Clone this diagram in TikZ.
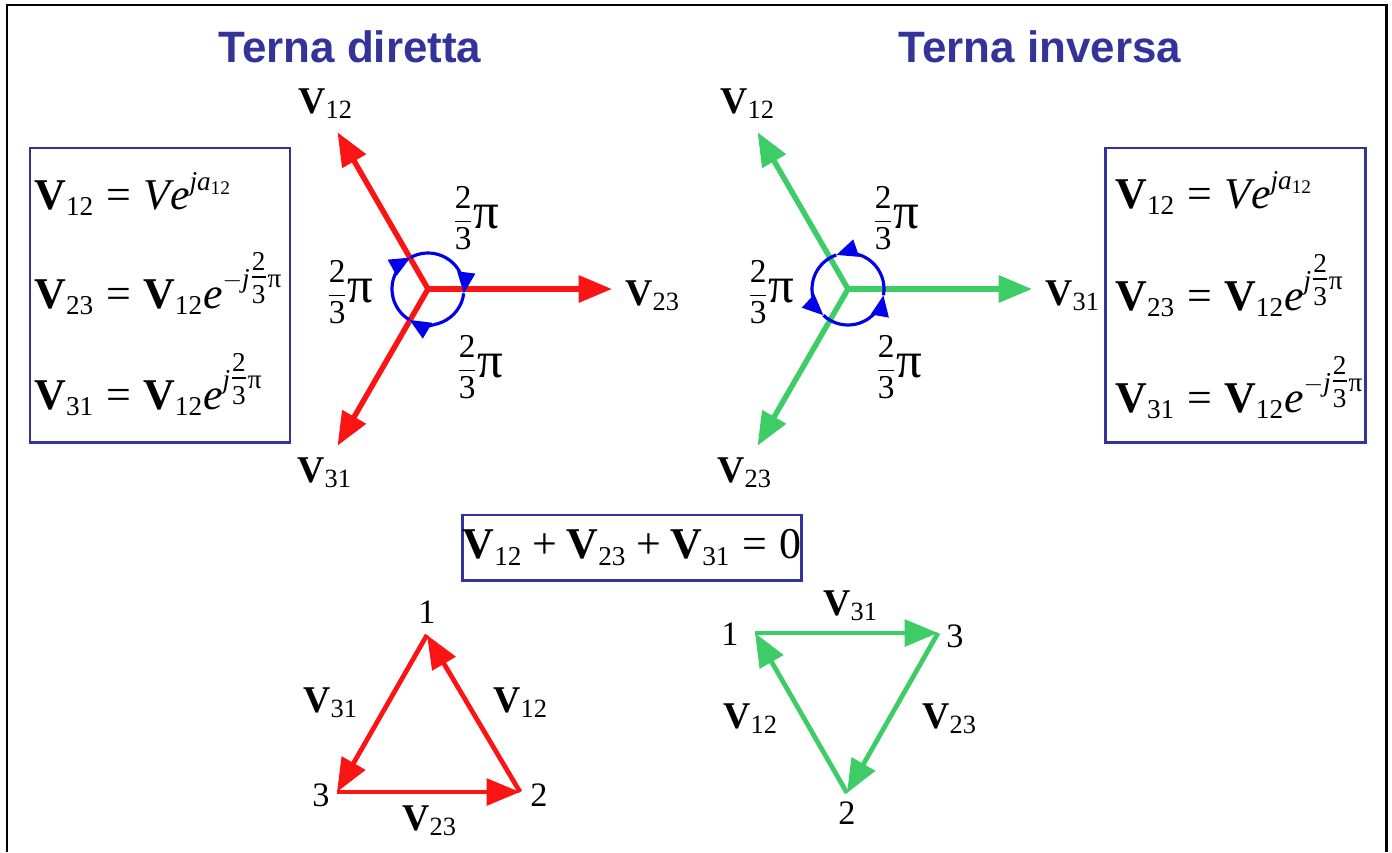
\documentclass[tikz,border=0pt]{standalone}
\usepackage{amsmath}
\usepackage{fontspec}
\setmainfont{Liberation Serif}
\newfontfamily\titlefont{Liberation Sans}
\usetikzlibrary{arrows.meta}

\definecolor{boxblue}{RGB}{51,51,153}
\definecolor{phred}{RGB}{250,20,20}
\definecolor{phgreen}{RGB}{61,204,102}
\definecolor{arcblue}{RGB}{0,0,235}

\DeclareMathSizes{25}{25}{15.5}{11}
\DeclareMathSizes{21.5}{21.5}{15}{11}

\newcommand{\vb}[1]{\mathbf{V}_{\text{#1}}}
\newcommand{\pis}{\text{π}}
\newcommand{\eqs}{\mathrel{\text{=}}}
\newcommand{\pls}{\mathbin{\text{+}}}
\newcommand{\efr}{\genfrac{}{}{}{1}{\text{2}}{\text{3}}}
\newcommand{\angfr}{\genfrac{}{}{}{0}{\text{2}}{\text{3}}\text{\fontsize{29}{29}\selectfont π}}

\begin{document}
\begin{tikzpicture}[x=0.02cm, y=-0.02cm,
  phasor/.style={line width=3.1pt, -{Triangle[length=19pt,width=15pt]}},
  side/.style={line width=2.7pt, -{Triangle[length=19pt,width=15pt]}},
  turn/.style={draw=arcblue, line width=1.8pt, -{Triangle[length=12pt,width=10pt]}},
  eqframe/.style={draw=boxblue, line width=1.7pt},
  title/.style={anchor=base, text=boxblue, font=\titlefont\bfseries\fontsize{25}{30}\selectfont},
  vlab/.style={anchor=base west, inner sep=0pt, font=\fontsize{21.5}{26}\selectfont},
  alab/.style={inner sep=0pt, font=\fontsize{19}{23}\selectfont},
  num/.style={inner sep=0pt, font=\fontsize{19.5}{23}\selectfont},
  eqline/.style={anchor=base west, inner sep=0pt, font=\fontsize{25}{30}\selectfont}]
\useasboundingbox (0,0) rectangle (1392,852);
% slide frame, open at the bottom
\draw[line width=1.7pt] (7,852) -- (7,5) -- (1386,5) -- (1386,852);

\node[title] (tdir) at (350,62) {Terna diretta};
\node[title] (tinv) at (1040,62) {Terna inversa};

% --- terna diretta: star
\coordinate (cL) at (428,289);
\path (cL) ++(120:3.62cm) coordinate (l12);
\path (cL) ++(0:3.68cm) coordinate (l23);
\path (cL) ++(240:3.62cm) coordinate (l31);
\draw[phasor, phred] (cL) -- (l12);
\draw[phasor, phred] (cL) -- (l23);
\draw[phasor, phred] (cL) -- (l31);
\draw[turn] (cL) ++(119:0.72cm) arc[start angle=119, end angle=-7, radius=0.72cm];
\draw[turn] (cL) ++(-7:0.72cm) arc[start angle=-7, end angle=-121, radius=0.72cm];
\draw[turn] (cL) ++(-121:0.72cm) arc[start angle=-121, end angle=-241, radius=0.72cm];
\node[vlab] (nl12) at (298,113) {$\vb{12}$};
\node[vlab] (nl23) at (625,305) {$\vb{23}$};
\node[vlab] (nl31) at (297,482) {$\vb{31}$};
\node[alab] (al1) at (476,218) {$\angfr$};
\node[alab] (al2) at (350,292) {$\angfr$};
\node[alab] (al3) at (480,367) {$\angfr$};

% --- terna inversa: star
\coordinate (cR) at (848,289);
\path (cR) ++(120:3.62cm) coordinate (r12);
\path (cR) ++(0:3.68cm) coordinate (r31);
\path (cR) ++(240:3.62cm) coordinate (r23);
\draw[phasor, phgreen] (cR) -- (r12);
\draw[phasor, phgreen] (cR) -- (r31);
\draw[phasor, phgreen] (cR) -- (r23);
\draw[turn] (cR) ++(-10:0.72cm) arc[start angle=-10, end angle=109, radius=0.72cm];
\draw[turn] (cR) ++(109:0.72cm) arc[start angle=109, end angle=227, radius=0.72cm];
\draw[turn] (cR) ++(227:0.72cm) arc[start angle=227, end angle=350, radius=0.72cm];
\node[vlab] (nr12) at (720,113) {$\vb{12}$};
\node[vlab] (nr31) at (1045,305) {$\vb{31}$};
\node[vlab] (nr23) at (717,482) {$\vb{23}$};
\node[alab] (ar1) at (896,218) {$\angfr$};
\node[alab] (ar2) at (771,292) {$\angfr$};
\node[alab] (ar3) at (899,367) {$\angfr$};

% --- equation boxes
\draw[eqframe] (30,148) rectangle (290,442);
\node[eqline] (eqL1) at (34,209) {$\vb{12}\eqs\mathit{Ve}^{\mathit{j}\mathit{a}_{\text{12}}}$};
\node[eqline] (eqL2) at (34,308) {$\vb{23}\eqs\vb{12}\mathit{e}^{-\mathit{j}\efr\pis}$};
\node[eqline] (eqL3) at (34,409) {$\vb{31}\eqs\vb{12}\mathit{e}^{\mathit{j}\efr\pis}$};

\draw[eqframe] (1105,148) rectangle (1365,442);
\node[eqline] (eqR1) at (1115,208) {$\vb{12}\eqs\mathit{Ve}^{\mathit{j}\mathit{a}_{\text{12}}}$};
\node[eqline] (eqR2) at (1115,310) {$\vb{23}\eqs\vb{12}\mathit{e}^{\mathit{j}\efr\pis}$};
\node[eqline] (eqR3) at (1115,412) {$\vb{31}\eqs\vb{12}\mathit{e}^{-\mathit{j}\efr\pis}$};

\node[eqframe, minimum width=193pt, minimum height=37pt, inner sep=0pt,
  font=\fontsize{25}{30}\selectfont] (sum) at (632,547.5)
  {$\vb{12}\pls\vb{23}\pls\vb{31}\eqs\text{0}$};

% --- triangles
\coordinate (a1) at (427,635);
\coordinate (a2) at (520,792);
\coordinate (a3) at (337,792);
\draw[side, phred] (a2) -- (a1);
\draw[side, phred] (a3) -- (a2);
\draw[side, phred] (a1) -- (a3);
\node[num] (na1) at (427,612) {1};
\node[num] (na2) at (539,795) {2};
\node[num] (na3) at (321,795) {3};
\node[vlab] (sa31) at (303,712) {$\vb{31}$};
\node[vlab] (sa12) at (493,712) {$\vb{12}$};
\node[vlab] (sa23) at (402,830) {$\vb{23}$};

\coordinate (b1) at (755,633);
\coordinate (b3) at (938,633);
\coordinate (b2) at (847,793);
\draw[side, phgreen] (b1) -- (b3);
\draw[side, phgreen] (b3) -- (b2);
\draw[side, phgreen] (b2) -- (b1);
\node[num] (nb1) at (730,634) {1};
\node[num] (nb3) at (955,636) {3};
\node[num] (nb2) at (847,813) {2};
\node[vlab] (sb31) at (823,615) {$\vb{31}$};
\node[vlab] (sb12) at (723,728) {$\vb{12}$};
\node[vlab] (sb23) at (922,728) {$\vb{23}$};
\end{tikzpicture}
\end{document}
